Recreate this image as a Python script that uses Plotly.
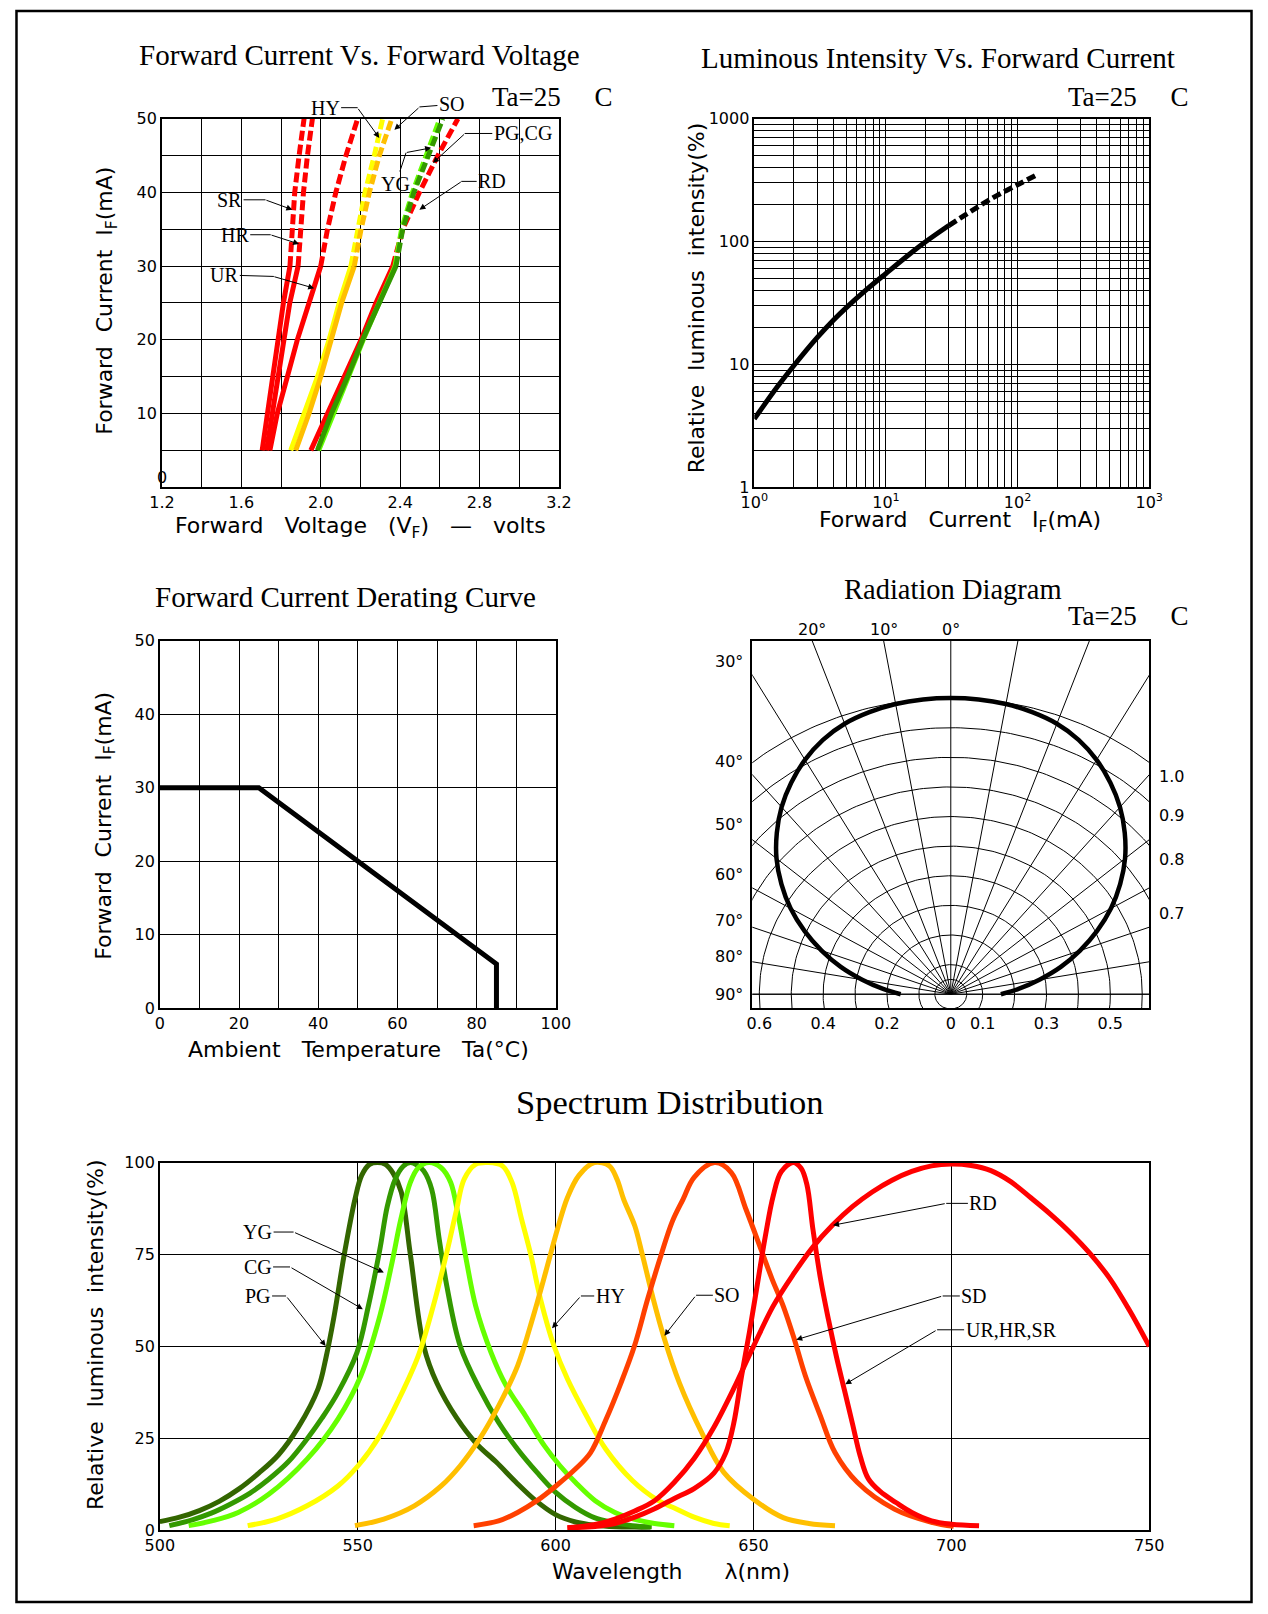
import numpy as np
import plotly.graph_objects as go

W, H = 1268, 1614
# the photographed page comes out slightly shrunk about its centre; positions are
# laid out in reference-pixel terms and expanded by this factor so they land in place
SX, SY = 0.977, 0.988
CX, CY = 634.0, 807.0
SERIF = "Liberation Serif, Times New Roman, serif"
SANS = "DejaVu Sans, Verdana, sans-serif"

# ---------------- Forward current vs forward voltage ----------------
vi_current = [5, 10, 15, 20, 25, 30, 35, 40, 45, 50]
vf_SR = [1.705, 1.731, 1.758, 1.785, 1.812, 1.845, 1.857, 1.869, 1.891, 1.916]
vf_HR = [1.727, 1.756, 1.786, 1.815, 1.844, 1.886, 1.899, 1.913, 1.933, 1.958]
vf_UR = [1.744, 1.781, 1.832, 1.882, 1.941, 2.000, 2.034, 2.076, 2.127, 2.186]
vf_HY = [1.849, 1.916, 1.984, 2.042, 2.093, 2.152, 2.186, 2.223, 2.270, 2.312]
vf_SO = [1.874, 1.941, 2.000, 2.054, 2.105, 2.169, 2.203, 2.245, 2.295, 2.358]
vf_RD = [1.950, 2.034, 2.118, 2.203, 2.278, 2.363, 2.413, 2.497, 2.590, 2.691]
vf_YG = [1.990, 2.062, 2.140, 2.214, 2.292, 2.374, 2.407, 2.462, 2.530, 2.600]
vf_PG = [1.983, 2.054, 2.135, 2.211, 2.295, 2.379, 2.413, 2.469, 2.540, 2.615]

# ---------------- Luminous intensity vs forward current ----------------
lum_current = [1, 1.5, 2, 3, 4, 5, 7, 10, 15, 20, 30, 50, 70, 100, 140]
lum_intensity = [3.6, 6.6, 9.8, 16.5, 23, 29, 40, 55, 78.5, 99.5, 135, 192, 238, 290, 350]

# ---------------- Derating curve ----------------
derate_temp = [0, 25, 85, 85]
derate_current = [30, 30, 6, 0]

# ---------------- Radiation diagram (half pattern, symmetric) ----------------
rad_angle = [0, 5, 10, 15, 20, 25, 30, 35, 40, 45, 50, 55, 60, 65, 70, 75, 80, 85, 90]
rad_value = [1.0, 0.999, 0.995, 0.986, 0.972, 0.948, 0.914, 0.872, 0.825, 0.771,
             0.713, 0.648, 0.580, 0.506, 0.431, 0.357, 0.282, 0.215, 0.157]
rad_circles = [0.05, 0.1, 0.2, 0.3, 0.4, 0.5, 0.6, 0.7, 0.8, 0.9, 1.0]
rad_spokes = list(range(-90, 91, 10))
rad_left_labels = [30, 40, 50, 60, 70, 80, 90]
rad_right_labels = [1.0, 0.9, 0.8, 0.7]
rad_top_labels = [20, 10, 0]

# ---------------- Spectrum distribution ----------------
wl_PG = [500, 505, 510, 515, 520, 525, 530, 535, 540, 542, 544, 546.6, 549.3, 551, 553, 555,
         557, 559, 561, 563.3, 566.7, 570, 575, 580, 585, 590, 595, 600, 605, 610, 615, 620, 624]
in_PG = [2.3, 3.5, 5.3, 7.8, 11.2, 15.5, 20.5, 28, 38.5, 47, 58, 75, 90, 96.5, 99.5, 100,
         99.5, 97, 92, 75, 50, 40, 30.5, 23.5, 18.5, 13, 8, 4.2, 2.2, 1.3, 0.9, 0.8, 0.8]
wl_CG = [502.4, 508.2, 513, 517.9, 522.7, 527.6, 532.4, 537.2, 541, 545, 549.8, 552.7, 555.6,
         557.5, 559.5, 561.5, 563.3, 565, 566.7, 568.7, 570.6, 572.5, 575.9, 580.8, 585.6,
         590.4, 595.3, 600.1, 605, 609.8, 614.6, 619.4, 624.3]
in_CG = [1.2, 2.8, 4.6, 7.1, 10, 13.9, 18.5, 24.8, 30.5, 37.4, 48.3, 61, 76.4, 88.2, 95.5, 99,
         100, 99.3, 97.7, 92.7, 79.1, 66.5, 50.1, 38.4, 29.3, 22, 15.7, 10.2, 6.2, 3.4, 2.1, 1.2, 0.9]
wl_YG = [507.3, 513.1, 519.8, 527.6, 537.2, 545, 550.8, 555.6, 558.5, 560.9, 563.3, 565.3, 568,
         571.1, 573.5, 575.4, 577.4, 579.8, 583.7, 587.5, 592.4, 597.2, 601.1, 605, 610, 615,
         620, 625, 630]
in_YG = [1.2, 2.5, 4.8, 9.8, 19.3, 30.2, 42, 58.3, 71.9, 84.6, 94.6, 98.6, 100, 98.6, 94.6,
         85.5, 73.7, 61, 48.3, 39.3, 31.1, 22.9, 17.5, 13, 8, 4.8, 2.9, 1.8, 1.2]
wl_HY = [522.2, 529.5, 537.2, 545, 550.1, 555.6, 560.4, 565.3, 569.1, 572.5, 575, 576.9, 579.8,
         583, 586.6, 589, 591.4, 593.8, 596.2, 599.6, 603, 607.8, 612.7, 619.4, 626, 630, 635,
         640, 644]
in_HY = [1.2, 3, 6.6, 12, 17.5, 25.7, 35.6, 47.4, 61, 75.5, 87.3, 95.5, 99.5, 100, 99.1, 94.6,
         84.6, 74.6, 62.8, 50.1, 41.1, 31.1, 22, 13.5, 8, 6, 3.5, 1.8, 1.2]
wl_SO = [549.3, 556.6, 564.3, 571.1, 575.9, 580.8, 585.6, 590.4, 594.3, 597.7, 600.5, 603, 605.9,
         609.8, 613.6, 615.5, 617.2, 620, 621.9, 624.7, 627.5, 631.3, 636.9, 642.5, 650, 657.5,
         664, 670.6]
in_SO = [1.2, 3, 6.6, 12, 17.5, 24.8, 33.8, 44.7, 58, 71, 82, 90.5, 96.5, 100, 99.1, 95.5, 90,
         82.8, 75, 62.8, 52, 40, 26.6, 15.7, 8.4, 3.4, 1.8, 1.2]
wl_SD = [579.3, 585.6, 590.4, 595.3, 600.1, 605, 608.8, 612.7, 616.5, 619.9, 623.3, 626.7,
         629.5, 632.2, 635, 640.2, 644.4, 648.1, 651.9, 654.7, 657.5, 660.3, 663.1, 666.9,
         670.6, 676.2, 685.6, 695, 700.6]
in_SD = [1.2, 2.5, 4.8, 8, 12, 16.6, 21, 30, 40, 50, 63, 75, 84, 90, 96, 100, 97.3, 87.3,
         76.4, 68.3, 61, 52, 42, 31.1, 21.1, 13, 5.7, 2.1, 1]
wl_UR = [603, 610, 615, 620, 625, 630, 635, 640, 643, 645, 647, 649, 651, 653, 655, 657, 660,
         662, 663.5, 665, 667, 669, 671, 673, 675, 677, 679, 682, 686, 690, 695, 700, 707]
in_UR = [0.6, 1.0, 1.8, 3.5, 5.8, 8.6, 11.3, 15.5, 21, 29, 42, 54, 67, 80, 91, 97.5, 100,
         98.5, 94, 82, 68, 57, 47, 38, 29, 20, 14, 10.5, 7.5, 4.8, 2.5, 1.6, 1.2]
wl_RD = [603, 610, 615, 620, 625, 630, 635, 640, 645, 650, 655, 660, 665, 670, 675, 680, 685,
         690, 695, 700, 705, 710, 715, 720, 725, 730, 735, 740, 745, 750]
in_RD = [0.6, 1.5, 3, 5.2, 8, 13, 19.5, 28, 38.5, 50, 61, 69.5, 77, 83, 88, 92, 95.2, 97.6,
         99.1, 99.6, 99.2, 97.8, 94.8, 90.5, 86, 81, 75.3, 68.5, 59.8, 50]

RED, YEL, ORA, LGR, DGR, OLV, ORR = "#ff0000", "#ffff00", "#ffbf00", "#66ff00", "#339900", "#336600", "#ff4000"


def PX(x):
    return (CX + (x - CX) / SX) / W


def PY(y):
    return 1 - (CY + (y - CY) / SY) / H


fig = go.Figure()

# ---------- chart 1 traces ----------
for v, col in [(vf_SR, RED), (vf_HR, RED), (vf_UR, RED), (vf_HY, YEL), (vf_SO, ORA),
               (vf_RD, RED), (vf_YG, LGR), (vf_PG, DGR)]:
    fig.add_trace(go.Scatter(x=v[:6], y=vi_current[:6], mode="lines", xaxis="x", yaxis="y",
                             line=dict(color=col, width=5), showlegend=False, hoverinfo="skip"))
    fig.add_trace(go.Scatter(x=v[5:], y=vi_current[5:], mode="lines", xaxis="x", yaxis="y",
                             line=dict(color=col, width=5, dash="10px,4px"), showlegend=False,
                             hoverinfo="skip"))

# ---------- chart 2 traces ----------
fig.add_trace(go.Scatter(x=lum_current[:11], y=lum_intensity[:11], mode="lines", xaxis="x2",
                         yaxis="y2", line=dict(color="black", width=5, shape="spline"),
                         showlegend=False))
fig.add_trace(go.Scatter(x=lum_current[10:], y=lum_intensity[10:], mode="lines", xaxis="x2",
                         yaxis="y2", line=dict(color="black", width=5, dash="9px,4px",
                                               shape="spline"), showlegend=False))

# ---------- chart 3 ----------
fig.add_trace(go.Scatter(x=derate_temp, y=derate_current, mode="lines", xaxis="x3", yaxis="y3",
                         line=dict(color="black", width=5), showlegend=False))

# ---------- chart 4 (radiation) ----------
t = np.linspace(0, 2 * np.pi, 361)
gx, gy = [], []
for r in rad_circles:
    gx += list(r * np.cos(t)) + [None]
    gy += list(r * np.sin(t)) + [None]
for a in rad_spokes:
    ar = np.radians(a)
    gx += [0, 2 * np.sin(ar), None]
    gy += [0, 2 * np.cos(ar), None]
gx += [-1, 1, None]
gy += [0, 0, None]
fig.add_trace(go.Scatter(x=gx, y=gy, mode="lines", xaxis="x4", yaxis="y4",
                         line=dict(color="black", width=1), showlegend=False, hoverinfo="skip"))
ang_full = [-a for a in rad_angle[::-1]] + rad_angle[1:]
val_full = rad_value[::-1] + rad_value[1:]
rx = [v * np.sin(np.radians(a)) for a, v in zip(ang_full, val_full)]
ry = [v * np.cos(np.radians(a)) for a, v in zip(ang_full, val_full)]
fig.add_trace(go.Scatter(x=rx, y=ry, mode="lines", xaxis="x4", yaxis="y4",
                         line=dict(color="black", width=4.5, shape="spline"), showlegend=False))

# ---------- chart 5 (spectrum) ----------
for wl, iv, col in [(wl_PG, in_PG, OLV), (wl_CG, in_CG, DGR), (wl_YG, in_YG, LGR),
                    (wl_HY, in_HY, YEL), (wl_SO, in_SO, ORA), (wl_SD, in_SD, ORR),
                    (wl_RD, in_RD, RED), (wl_UR, in_UR, RED)]:
    fig.add_trace(go.Scatter(x=wl, y=iv, mode="lines", xaxis="x5", yaxis="y5",
                             line=dict(color=col, width=5, shape="spline", smoothing=1.0),
                             showlegend=False))

# ---------- axes ----------
tickfont = dict(family=SANS, size=16, color="black")
base = dict(showline=True, linecolor="black", linewidth=1.5, mirror=True, showgrid=True,
            gridcolor="black", gridwidth=1, zeroline=False, ticks="", tickfont=tickfont)

dom = {
    1: ([161.6, 558.9], [119.4, 487.8]),
    2: ([754.4, 1149.6], [119.4, 487.8]),
    3: ([159.5, 555.8], [641.2, 1008.6]),
    4: ([752.4, 1149.6], [641.2, 1008.6]),
    5: ([159.5, 1149.6], [1163.0, 1530.4]),
}


def xdom(i):
    return [PX(dom[i][0][0]), PX(dom[i][0][1])]


def ydom(i):
    return [PY(dom[i][1][1]), PY(dom[i][1][0])]


vi_xt = [round(1.2 + 0.2 * k, 1) for k in range(11)]
vi_yt = list(range(0, 51, 5))
log_t = [m * 10 ** e for e in range(3) for m in range(1, 10)] + [1000]
log_xtext = ["10<sup>%d</sup>" % e if m == 1 else "" for e in range(3) for m in range(1, 10)] + ["10<sup>3</sup>"]
log_ytext = [str(10 ** e) if m == 1 else "" for e in range(3) for m in range(1, 10)] + ["1000"]

RX = 0.622
layout = dict(
    autosize=True, margin=dict(l=0, r=0, t=0, b=0, pad=0), paper_bgcolor="white",
    plot_bgcolor="white", showlegend=False,
    xaxis=dict(base, domain=xdom(1), anchor="y", range=[1.2, 3.2], tickvals=vi_xt,
               ticktext=["%.1f" % v if k % 2 == 0 else "" for k, v in enumerate(vi_xt)]),
    yaxis=dict(base, domain=ydom(1), anchor="x", range=[0, 50], tickvals=vi_yt,
               ticktext=[str(v) if v % 10 == 0 and v > 0 else "" for v in vi_yt]),
    xaxis2=dict(base, domain=xdom(2), anchor="y2", type="log", range=[0, 3], tickvals=log_t,
                ticktext=log_xtext),
    yaxis2=dict(base, domain=ydom(2), anchor="x2", type="log", range=[0, 3], tickvals=log_t,
                ticktext=log_ytext),
    xaxis3=dict(base, domain=xdom(3), anchor="y3", range=[0, 100], tickvals=list(range(0, 101, 10)),
                ticktext=[str(v) if v % 20 == 0 else "" for v in range(0, 101, 10)]),
    yaxis3=dict(base, domain=ydom(3), anchor="x3", range=[0, 50], tickvals=list(range(0, 51, 10))),
    xaxis4=dict(base, domain=xdom(4), anchor="y4", range=[-RX, RX], showgrid=False,
                tickvals=[-0.6, -0.4, -0.2, 0, 0.1, 0.3, 0.5],
                ticktext=["0.6", "0.4", "0.2", "0", "0.1", "0.3", "0.5"]),
    yaxis4=dict(base, domain=ydom(4), anchor="x4", range=[-0.047, 1.194], showgrid=False,
                showticklabels=False),
    xaxis5=dict(base, domain=xdom(5), anchor="y5", range=[500, 750], tickvals=list(range(500, 751, 50))),
    yaxis5=dict(base, domain=ydom(5), anchor="x5", range=[0, 100], tickvals=[0, 25, 50, 75, 100]),
)
fig.update_layout(**layout)

ann = []


def text(x, y, s, size=22, family=SANS, angle=0, xanchor="center", yanchor="middle"):
    ann.append(dict(x=PX(x), y=PY(y), xref="paper", yref="paper", text=s, showarrow=False,
                    font=dict(family=family, size=size, color="black"), textangle=angle,
                    xanchor=xanchor, yanchor=yanchor))


# titles
text(359, 56, "Forward Current Vs. Forward Voltage", 29, SERIF)
text(938, 59, "Luminous Intensity Vs. Forward Current", 29, SERIF)
text(345, 598, "Forward Current Derating Curve", 29, SERIF)
text(953, 590, "Radiation Diagram", 28.5, SERIF)
text(670, 1102, "Spectrum Distribution", 34.5, SERIF)
for xx, yy in [(490, 98), (1066, 98), (1066, 617)]:
    text(xx, yy, "Ta=25\u00a0\u00a0\u00a0\u00a0\u00a0C", 27, SERIF, xanchor="left")

# axis titles
S2 = "\u00a0\u00a0"
S3 = "\u00a0\u00a0\u00a0"
text(360, 528, "Forward" + S3 + "Voltage" + S3 + "(V<sub>F</sub>)" + S3 + "\u2014" + S3 + "volts")
text(106, 301, "Forward" + S2 + "Current" + S2 + "I<sub>F</sub>(mA)", angle=-90)
text(960, 522, "Forward" + S3 + "Current" + S3 + "I<sub>F</sub>(mA)")
text(696, 298, "Relative" + S2 + "luminous" + S2 + "intensity(%)", angle=-90)
text(358, 1050, "Ambient" + S3 + "Temperature" + S3 + "Ta(\u00b0C)")
text(105, 826, "Forward" + S2 + "Current" + S2 + "I<sub>F</sub>(mA)", angle=-90)
text(671, 1572, "Wavelength" + S3 + S3 + "\u03bb(nm)")
text(95, 1335, "Relative" + S2 + "luminous" + S2 + "intensity(%)", angle=-90)
text(162, 478, "0", 16)


def c1(v, i):
    """voltage/current of chart 1 -> reference pixels"""
    return (161.6 + (v - 1.2) * 198.65, 487.8 - i * 7.368)


def leader_px(label, tp, bp, hp, size=20):
    ann.append(dict(x=PX(bp[0]), y=PY(bp[1]), xref="paper", yref="paper",
                    ax=(tp[0] - bp[0]) / SX, ay=(tp[1] - bp[1]) / SY, text=label, showarrow=True,
                    arrowhead=0, arrowwidth=1, arrowcolor="black", standoff=0,
                    font=dict(family=SERIF, size=size, color="black")))
    ann.append(dict(x=PX(hp[0]), y=PY(hp[1]), xref="paper", yref="paper",
                    ax=(bp[0] - hp[0]) / SX, ay=(bp[1] - hp[1]) / SY, text="", showarrow=True,
                    arrowhead=2, arrowsize=1.2, arrowwidth=1, arrowcolor="black"))


def leader(xa, ya, label, tx, ty, bx, by, hx, hy, size=20):
    ann.append(dict(x=bx, y=by, xref=xa, yref=ya, ax=tx, ay=ty, axref=xa, ayref=ya, text=label,
                    showarrow=True, arrowhead=0, arrowwidth=1, arrowcolor="black", standoff=0,
                    font=dict(family=SERIF, size=size, color="black")))
    ann.append(dict(x=hx, y=hy, xref=xa, yref=ya, ax=bx, ay=by, axref=xa, ayref=ya, text="",
                    showarrow=True, arrowhead=2, arrowsize=1.2, arrowwidth=1, arrowcolor="black"))


# chart 1 labels
leader_px("HY", c1(2.026, 51.5), c1(2.186, 51.5), c1(2.295, 47.4))
leader_px("SO", c1(2.657, 51.95), c1(2.497, 51.6), c1(2.371, 48.5))
leader_px("PG,CG", c1(3.011, 48.0), c1(2.725, 48.0), c1(2.565, 44.0))
leader_px("YG", c1(2.379, 41.2), c1(2.43, 45.4), c1(2.556, 46.05))
leader_px("RD", c1(2.86, 41.5), c1(2.708, 41.5), c1(2.497, 37.66))
leader_px("SR", c1(1.545, 39.0), c1(1.722, 39.0), c1(1.857, 37.66))
leader_px("HR", c1(1.571, 34.26), c1(1.748, 34.26), c1(1.891, 33.0))
leader_px("UR", c1(1.52, 28.8), c1(1.764, 28.6), c1(1.967, 27.0))

# spectrum labels
leader("x5", "y5", "YG", 524.7, 81.1, 533.8, 81.1, 556.6, 70.1)
leader("x5", "y5", "CG", 524.7, 71.6, 532.9, 71.6, 551.3, 60.1)
leader("x5", "y5", "PG", 524.7, 63.7, 531.9, 63.7, 541.9, 50.1)
leader("x5", "y5", "HY", 613.8, 63.7, 606.4, 63.7, 599.1, 54.9)
leader("x5", "y5", "SO", 643.4, 63.9, 635.5, 63.9, 627.5, 52.9)
leader("x5", "y5", "RD", 708.1, 88.9, 698.7, 88.9, 670.1, 82.96)
leader("x5", "y5", "SD", 705.8, 63.7, 697.8, 63.7, 660.8, 51.8)
leader("x5", "y5", "UR,HR,SR", 715.1, 54.5, 696.4, 54.5, 673.2, 39.7)

# radiation labels
left_shift = [14, 13, 15, 13, 7, 5, 0]
for a, s in zip(rad_left_labels, left_shift):
    yv = RX * np.cos(np.radians(a)) / np.sin(np.radians(a))
    ann.append(dict(x=PX(745), y=yv, xref="paper", yref="y4", text="%d\u00b0" % a,
                    showarrow=False, xanchor="right", yshift=s, font=tickfont))
for r in rad_right_labels:
    yv = float(np.sqrt(r * r - RX * RX))
    ann.append(dict(x=PX(1157), y=yv, xref="paper", yref="y4", text="%.1f" % r,
                    showarrow=False, xanchor="left", yshift=-14, font=tickfont))
for a in rad_top_labels:
    xv = -1.194 * np.tan(np.radians(a))
    ann.append(dict(x=xv, y=PY(630), xref="x4", yref="paper", text="%d\u00b0" % a,
                    showarrow=False, font=tickfont))

fig.update_layout(annotations=ann)
fig.add_shape(type="rect", xref="paper", yref="paper", x0=0.0012, x1=0.9988,
              y0=0.0012, y1=0.9988, line=dict(color="black", width=2.5))

post = ("document.documentElement.style.margin='0';document.body.style.margin='0';"
        "document.body.style.overflow='hidden';document.documentElement.style.overflow='hidden';"
        "var gd=document.getElementById('{plot_id}');gd.style.width='100vw';gd.style.height='100vh';"
        "Plotly.Plots.resize(gd);")
fig.write_html("out.html", config={"displayModeBar": False, "responsive": True},
               default_width="100vw", default_height="100vh", post_script=post)
